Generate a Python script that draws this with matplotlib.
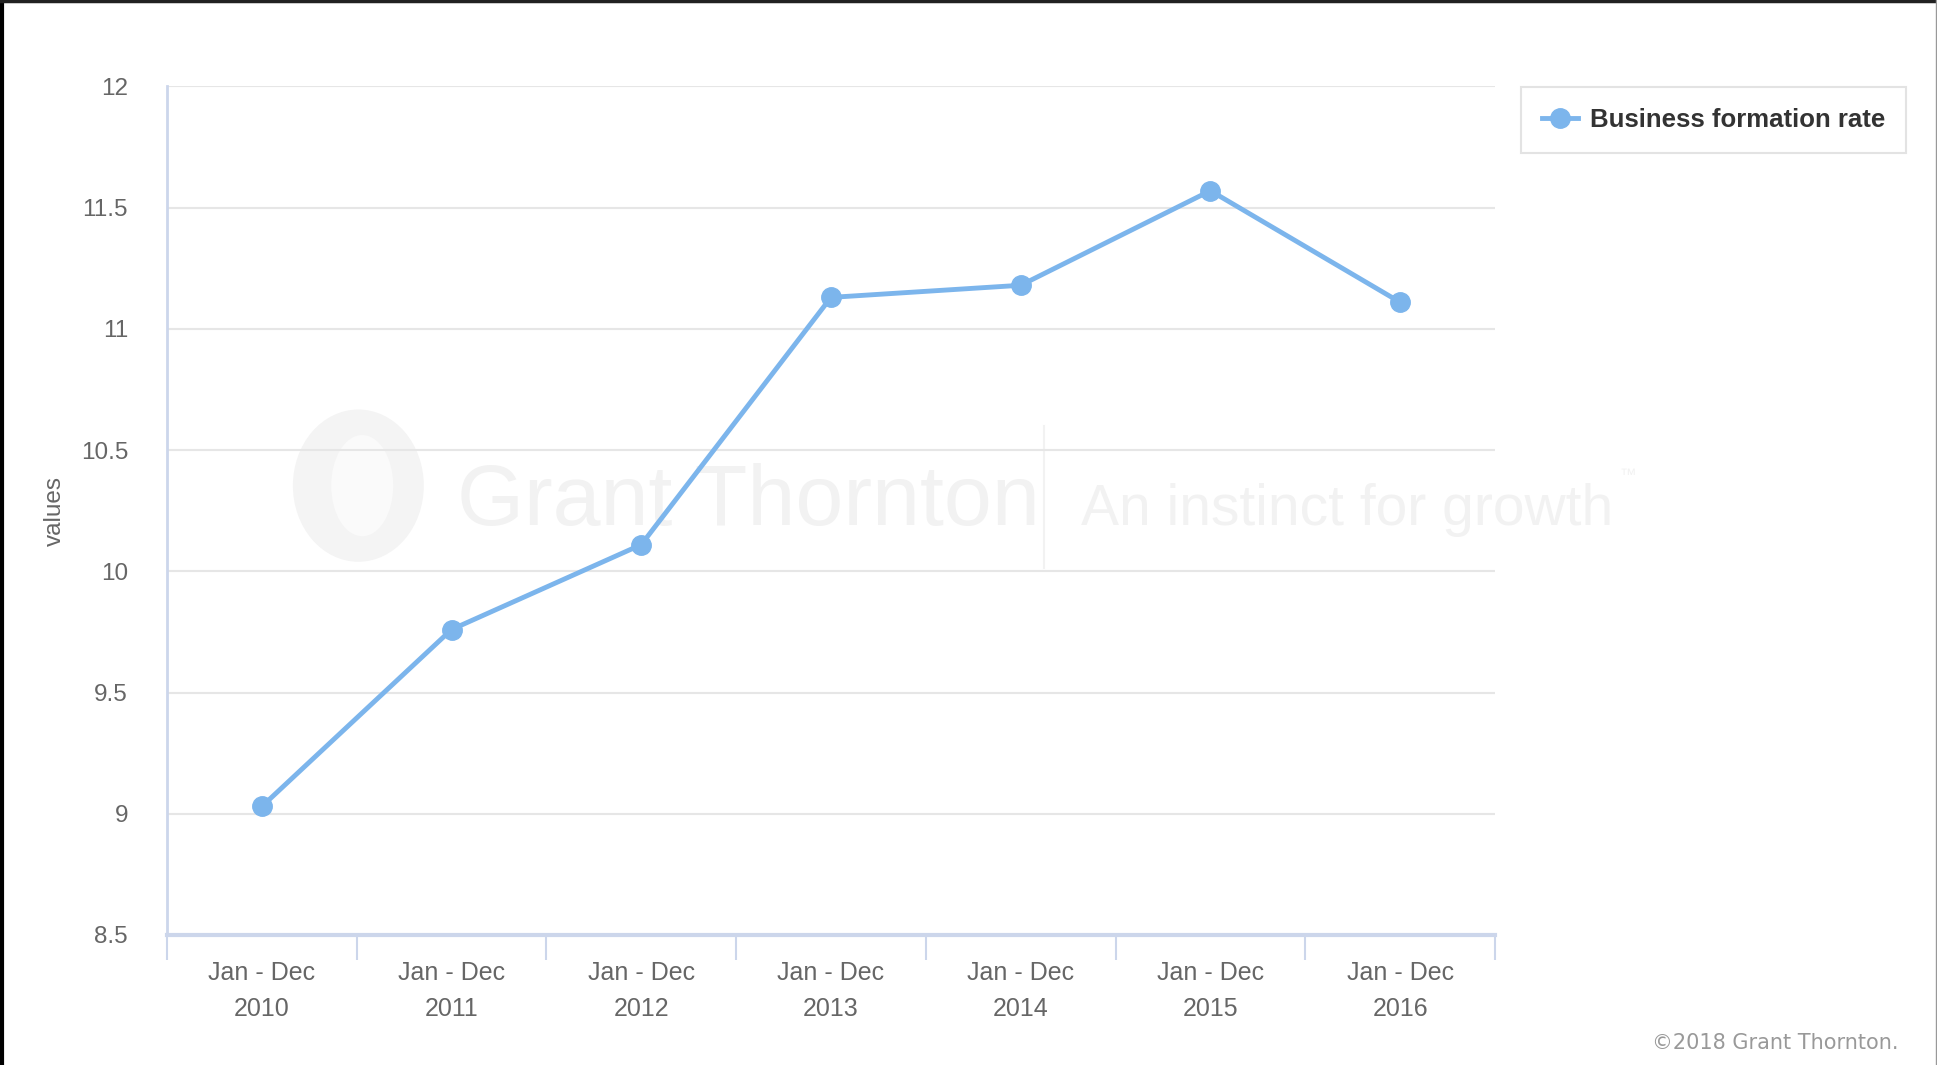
import matplotlib.pyplot as plt
from matplotlib.lines import Line2D
from matplotlib.patches import Ellipse
from matplotlib.ticker import FixedLocator, FuncFormatter

# Données
years = ["2010", "2011", "2012", "2013", "2014", "2015", "2016"]
period = "Jan - Dec"
rate = [9.03, 9.76, 10.11, 11.13, 11.18, 11.57, 11.11]
y_ticks = [8.5, 9, 9.5, 10, 10.5, 11, 11.5, 12]

font = ["Liberation Sans", "DejaVu Sans"]
grey = "#666666"
blue = "#7cb5ec"

fig = plt.figure(figsize=(19.37, 10.65), dpi=100)
ax = fig.add_axes([0.0862, 0.1221, 0.6856, 0.7967])
ax.patch.set_visible(False)

x = list(range(len(years)))
ax.plot(x, rate, color=blue, lw=3.5, marker="o", markersize=14,
        label="Business formation rate", zorder=3)

# axes
ax.set_xlim(-0.5, len(years) - 0.5)
ax.set_ylim(8.5, 12)
ax.yaxis.set_major_locator(FixedLocator(y_ticks))
ax.yaxis.set_major_formatter(FuncFormatter(lambda v, p: f"{v:g}"))
ax.grid(axis="y", color="#e6e6e6", lw=1.5)
ax.set_axisbelow(True)
ax.tick_params(axis="y", length=0, pad=28, labelsize=17.5, labelcolor=grey)
for lab in ax.get_yticklabels():
    lab.set_family(font)

# ticks x : marques aux limites, étiquettes au centre
ax.xaxis.set_major_locator(FixedLocator([i - 0.5 for i in range(len(years) + 1)]))
ax.xaxis.set_major_formatter(FuncFormatter(lambda v, p: ""))
ax.xaxis.set_minor_locator(FixedLocator(x))
ax.set_xticklabels([f"{period}\n{y}" for y in years], minor=True)
ax.tick_params(axis="x", which="major", length=18, width=1.5, color="#ccd6eb")
ax.tick_params(axis="x", which="minor", length=0, pad=19, labelsize=18, labelcolor=grey)
for lab in ax.get_xticklabels(minor=True):
    lab.set_family(font)
    lab.set_linespacing(1.6)

for s in ["top", "right"]:
    ax.spines[s].set_visible(False)
ax.spines["left"].set_color("#ccd6eb")
ax.spines["left"].set_linewidth(2)
ax.spines["bottom"].set_color("#ccd6eb")
ax.spines["bottom"].set_linewidth(3)

ax.set_ylabel("values", fontsize=17.5, color=grey, family=font)
ax.yaxis.set_label_coords(-0.076, 0.5)

# légende
leg = fig.legend(loc="upper left", bbox_to_anchor=(0.7786, 0.930),
                 frameon=True, fancybox=False, edgecolor="#dddddd",
                 prop={"family": font, "weight": "bold", "size": 18.5},
                 handlelength=1.4, borderpad=0.8, handletextpad=0.5)
for t in leg.get_texts():
    t.set_color("#333333")
leg.get_frame().set_linewidth(1.5)

# filigrane
wm = "#f2f2f2"
fig.add_artist(Ellipse((0.185, 0.544), 0.0676, 0.143, transform=fig.transFigure,
                       facecolor="#f4f4f4", edgecolor="none", zorder=-2))
fig.add_artist(Ellipse((0.187, 0.544), 0.032, 0.095, transform=fig.transFigure,
                       facecolor="#fafafa", edgecolor="none", zorder=-2))
fig.text(0.236, 0.507, "Grant Thornton", fontsize=62, color=wm, family=font,
         ha="left", va="baseline", zorder=-2)
fig.add_artist(Line2D([0.539, 0.539], [0.467, 0.600], transform=fig.transFigure,
                      color=wm, lw=1.5, zorder=-2))
fig.text(0.558, 0.507, "An instinct for growth", fontsize=41, color=wm,
         family=font, ha="left", va="baseline", zorder=-2)
fig.text(0.836, 0.561, "\u2122", fontsize=12, color=wm, family=font,
         ha="left", va="top", zorder=-2)

# copyright
fig.text(0.980, 0.021, "\u00a92018 Grant Thornton.", fontsize=15, color="#999999",
         ha="right", va="center")

# bordure
fig.add_artist(Line2D([0.0008, 0.0008], [0, 1], transform=fig.transFigure, color="black", lw=3))
fig.add_artist(Line2D([0, 1], [0.999, 0.999], transform=fig.transFigure, color="#222222", lw=2.5))
fig.add_artist(Line2D([0.9995, 0.9995], [0, 1], transform=fig.transFigure, color="#999999", lw=1))

fig.savefig("out.png", dpi=100)
